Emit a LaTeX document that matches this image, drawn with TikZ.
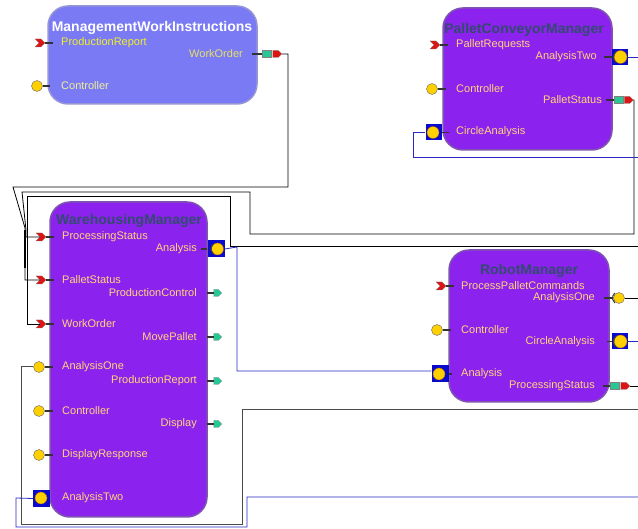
\documentclass[tikz,border=0pt]{standalone}
\usepackage{fontspec}
\setmainfont{Liberation Sans}
\usetikzlibrary{shapes.symbols}
\definecolor{mwifill}{RGB}{122,122,245}
\definecolor{mwiedge}{RGB}{150,150,215}
\definecolor{purp}{RGB}{140,34,238}
\definecolor{purpedge}{RGB}{125,85,175}
\definecolor{ttlc}{RGB}{50,75,110}
\definecolor{lblc}{RGB}{255,214,120}
\definecolor{yl1}{RGB}{240,240,40}
\definecolor{yl2}{RGB}{230,225,100}
\definecolor{yl3}{RGB}{240,240,150}
\definecolor{pgreen}{RGB}{40,200,150}
\definecolor{pred}{RGB}{220,20,20}
\definecolor{pyel}{RGB}{255,208,0}
\definecolor{sqblue}{RGB}{10,10,205}
\definecolor{wblue}{RGB}{40,40,200}
\definecolor{wgray}{RGB}{75,75,75}
\begin{document}
\begin{tikzpicture}[x=1pt,y=-1pt,
  box/.style={rounded corners=20pt, line width=1.5pt, inner sep=0pt},
  ttl/.style={font=\bfseries\fontsize{14}{16}\selectfont, text=ttlc, inner sep=0pt},
  lab/.style={font=\fontsize{11}{13}\selectfont, text=lblc, inner sep=0pt},
  inev/.style={shape=signal, signal from=west, signal to=east, fill=pred, draw=black!50, line width=0.3pt, minimum width=10pt, minimum height=8pt, inner sep=0pt},
  outg/.style={rectangle, fill=pgreen, draw=black!50, line width=0.3pt, minimum width=9pt, minimum height=7pt, inner sep=0pt},
  outr/.style={shape=signal, signal to=east, fill=pred, draw=black!50, line width=0.3pt, minimum width=9pt, minimum height=7pt, inner sep=0pt},
  smallg/.style={shape=signal, signal to=east, fill=pgreen, draw=black!50, line width=0.3pt, minimum width=8pt, minimum height=7pt, inner sep=0pt},
  ctrl/.style={circle, fill=pyel, draw=black!60, line width=0.4pt, minimum size=11pt, inner sep=0pt},
  inctrl/.style={circle, fill=pyel, draw=orange!70!black, line width=0.3pt, minimum size=12pt, inner sep=0pt},
  sq/.style={rectangle, fill=sqblue, minimum size=16pt, inner sep=0pt},
  sockarc/.style={line width=1.1pt, black!75},
  stub/.style={line width=1.3pt, black!80},
  wire/.style={line width=0.8pt, black},
  bwire/.style={line width=0.8pt, wblue},
  gwire/.style={line width=1pt, wgray}]
\useasboundingbox[fill=white] (0,0) rectangle (638,529);

% ---------- boxes ----------
\node[box, fill=mwifill, draw=mwiedge, minimum width=209pt, minimum height=98pt] (mwi) at (152.5,55) {};
\node[box, fill=purp, draw=purpedge, minimum width=169pt, minimum height=142pt] (pcm) at (527.5,79) {};
\node[box, fill=purp, draw=purpedge, minimum width=157pt, minimum height=315pt] (whm) at (128.5,359.5) {};
\node[box, fill=purp, draw=purpedge, minimum width=160pt, minimum height=152pt] (rm) at (529,326) {};

% ---------- free ends at the picture edge ----------
\coordinate (e246) at (638,246);
\coordinate (e386) at (638,386);
\coordinate (e410) at (638,410);
\coordinate (e157) at (638,157);
\coordinate (e57) at (638,57);
\coordinate (e298) at (638,298);
\coordinate (e342) at (638,341.5);
\coordinate (e497) at (638,497);

% ---------- MWI ----------
\node[ttl, text=white] (mwi-t) at (152,28) {ManagementWorkInstructions};
\node[lab, text=yl1, anchor=west] (mwi-prl) at (61,43) {ProductionReport};
\node[inev] (mwi-pr) at (40,43) {};
\draw[stub] (mwi-pr.east) -- ++(8,0);
\node[lab, text=yl3, anchor=west] (mwi-cl) at (61,86) {Controller};
\node[ctrl] (mwi-c) at (37,86) {};
\draw[stub] (mwi-c.east) -- ++(7,0);
\node[lab, text=yl2, anchor=east] (mwi-wol) at (243,54) {WorkOrder};
\node[outg] (mwi-wog) at (266.5,54) {};
\node[outr] (mwi-wo) at (275.5,54) {};
\draw[stub] (mwi-wog.west) -- ++(-10,0);

% ---------- PCM ----------
\node[ttl] (pcm-t) at (524,30) {PalletConveyorManager};
\node[lab, anchor=west] (pcm-prl) at (456,45) {PalletRequests};
\node[inev] (pcm-pr) at (435,45) {};
\draw[stub] (pcm-pr.east) -- ++(8,0);
\node[lab, anchor=east] (pcm-a2l) at (597,57) {AnalysisTwo};
\node[sq] (pcm-a2) at (620,57) {};
\draw[bwire] (pcm-a2.east) -- (e57);
\draw[stub] (pcm-a2.west) -- ++(-8,0);
\node[lab, anchor=west] (pcm-cl) at (456,89) {Controller};
\node[ctrl] (pcm-c) at (432,89) {};
\draw[stub] (pcm-c.east) -- ++(8,0);
\node[lab, anchor=east] (pcm-psl) at (602,100) {PalletStatus};
\node[outg] (pcm-psg) at (618.5,100) {};
\node[outr] (pcm-ps) at (627,100) {};
\draw[stub] (pcm-psg.west) -- ++(-8,0);
\node[lab, anchor=west] (pcm-cal) at (456,132) {CircleAnalysis};
\node[sq] (pcm-ca) at (433.5,132.5) {};
\node[inctrl] (pcm-cac) at (433,132.5) {};
\draw[stub] (pcm-ca.east) -- ++(7,0);

% ---------- WHM ----------
\node[ttl] (whm-t) at (129,221) {WarehousingManager};
\node[lab, anchor=west] (whm-psl) at (62,237) {ProcessingStatus};
\node[inev] (whm-ps) at (41,237) {};
\draw[stub] (whm-ps.east) -- ++(8,0);
\node[lab, anchor=west] (whm-pall) at (62,280) {PalletStatus};
\node[inev] (whm-pal) at (41,280) {};
\draw[stub] (whm-pal.east) -- ++(8,0);
\node[lab, anchor=west] (whm-wol) at (62,324) {WorkOrder};
\node[inev] (whm-wo) at (41,324) {};
\draw[stub] (whm-wo.east) -- ++(8,0);
\node[lab, anchor=west] (whm-a1l) at (62,367) {AnalysisOne};
\node[ctrl] (whm-a1) at (39,367) {};
\draw[stub] (whm-a1.east) -- ++(8,0);
\node[lab, anchor=west] (whm-cl) at (62,411) {Controller};
\node[ctrl] (whm-c) at (39,411) {};
\draw[stub] (whm-c.east) -- ++(8,0);
\node[lab, anchor=west] (whm-drl) at (62,455) {DisplayResponse};
\node[ctrl] (whm-dr) at (39,455) {};
\draw[stub] (whm-dr.east) -- ++(8,0);
\node[lab, anchor=west] (whm-a2l) at (62,498) {AnalysisTwo};
\node[sq, minimum size=17pt] (whm-a2) at (41.5,498.5) {};
\node[inctrl] (whm-a2c) at (41,498) {};

\node[lab, anchor=east] (whm-anl) at (197,249) {Analysis};
\node[sq, minimum size=17pt] (whm-an) at (216,249) {};
\node[inctrl] (whm-anc) at (217.5,249) {};
\draw[sockarc] (whm-anc.center) ++(130:6.5pt) arc[start angle=130, end angle=230, radius=6.5pt];
\draw[stub] (whm-an.west) -- ++(-6,0);
\node[lab, anchor=east] (whm-pcl) at (197,293) {ProductionControl};
\node[smallg] (whm-pc) at (216,293) {};
\draw[stub] (whm-pc.west) -- ++(-7,0);
\node[lab, anchor=east] (whm-mpl) at (197,337) {MovePallet};
\node[smallg] (whm-mp) at (216,337) {};
\draw[stub] (whm-mp.west) -- ++(-7,0);
\node[lab, anchor=east] (whm-prl) at (197,381) {ProductionReport};
\node[smallg] (whm-pr) at (216,381) {};
\draw[stub] (whm-pr.west) -- ++(-7,0);
\node[lab, anchor=east] (whm-dil) at (197,424) {Display};
\node[smallg] (whm-di) at (216,424) {};
\draw[stub] (whm-di.west) -- ++(-7,0);

% ---------- RM ----------
\node[ttl] (rm-t) at (529,271) {RobotManager};
\node[lab, anchor=west] (rm-ppl) at (461,286) {ProcessPalletCommands};
\node[inev] (rm-pp) at (441,286) {};
\draw[stub] (rm-pp.east) -- ++(8,0);
\node[lab, anchor=west] (rm-cl) at (461,330) {Controller};
\node[ctrl] (rm-c) at (437,330) {};
\draw[stub] (rm-c.east) -- ++(8,0);
\node[lab, anchor=west] (rm-anl) at (461,374) {Analysis};
\node[sq, minimum size=17pt] (rm-an) at (440,374) {};
\node[inctrl] (rm-anc) at (439,374) {};
\draw[stub] (rm-an.east) -- ++(3,0);

\node[lab, anchor=east] (rm-a1l) at (595,298) {AnalysisOne};
\node[ctrl] (rm-a1) at (619,298) {};
\draw[sockarc] (rm-a1.center) ++(130:6.5pt) arc[start angle=130, end angle=230, radius=6.5pt];
\draw[stub] (rm-a1.west) -- ++(-9,0);
\node[lab, anchor=east] (rm-cal) at (595,342) {CircleAnalysis};
\node[sq] (rm-ca) at (620,341.5) {};
\draw[bwire] (rm-ca.east) -- (e342);
\draw[stub] (rm-ca.west) -- ++(-5,0);
\node[lab, anchor=east] (rm-psl) at (595,386) {ProcessingStatus};
\node[outg] (rm-psg) at (615,386) {};
\node[outr] (rm-ps) at (623.5,386) {};
\draw[stub] (rm-psg.west) -- ++(-7,0);

% ---------- black wires ----------
\draw[wire] (mwi-wo.east) -- (288,54) -- (288,187) -- (13,187) -- (25,228) -- (25,280) -- (whm-pal.west);
\draw[wire] (pcm-ps.east) -- (634,100) -- (634,234) -- (250,234) -- (250,192) -- (22,192) -- (26,230) -- (26,237) -- (whm-ps.west);
\draw[wire] (e246) -- (230,246) -- (230,196) -- (27,196) -- (27,324) -- (whm-wo.west);
\draw[wire] (rm-ps.east) -- (e386);
\draw[wire] (rm-a1.east) -- (e298);
\draw[line width=1.6pt] (25,230) -- (25,268);

% ---------- gray wire ----------
\draw[gwire] (e410) -- (242,410) -- (242,525) -- (21,525) -- (21,367) -- (whm-a1.west);

% ---------- blue wires ----------
\draw[bwire] (whm-an.east) -- (237,247) -- (237,371) -- (rm-an.west |- 0,371);
\draw[bwire] (pcm-ca.west) -- (413,132.5) -- (413,157) -- (e157);
\draw[bwire] (whm-a2.west) -- (16,498) -- (16,527) -- (247,527) -- (247,497) -- (e497);

% ---------- socket discs drawn last, on top of their squares ----------
\node[inctrl, minimum size=13pt] (pcm-a2c) at (620.5,57) {};
\draw[sockarc] (pcm-a2c.center) ++(130:7pt) arc[start angle=130, end angle=230, radius=7pt];
\node[inctrl, minimum size=13pt] (rm-cac) at (620.5,341.5) {};
\draw[sockarc] (rm-cac.center) ++(130:7pt) arc[start angle=130, end angle=230, radius=7pt];
\end{tikzpicture}
\end{document}
